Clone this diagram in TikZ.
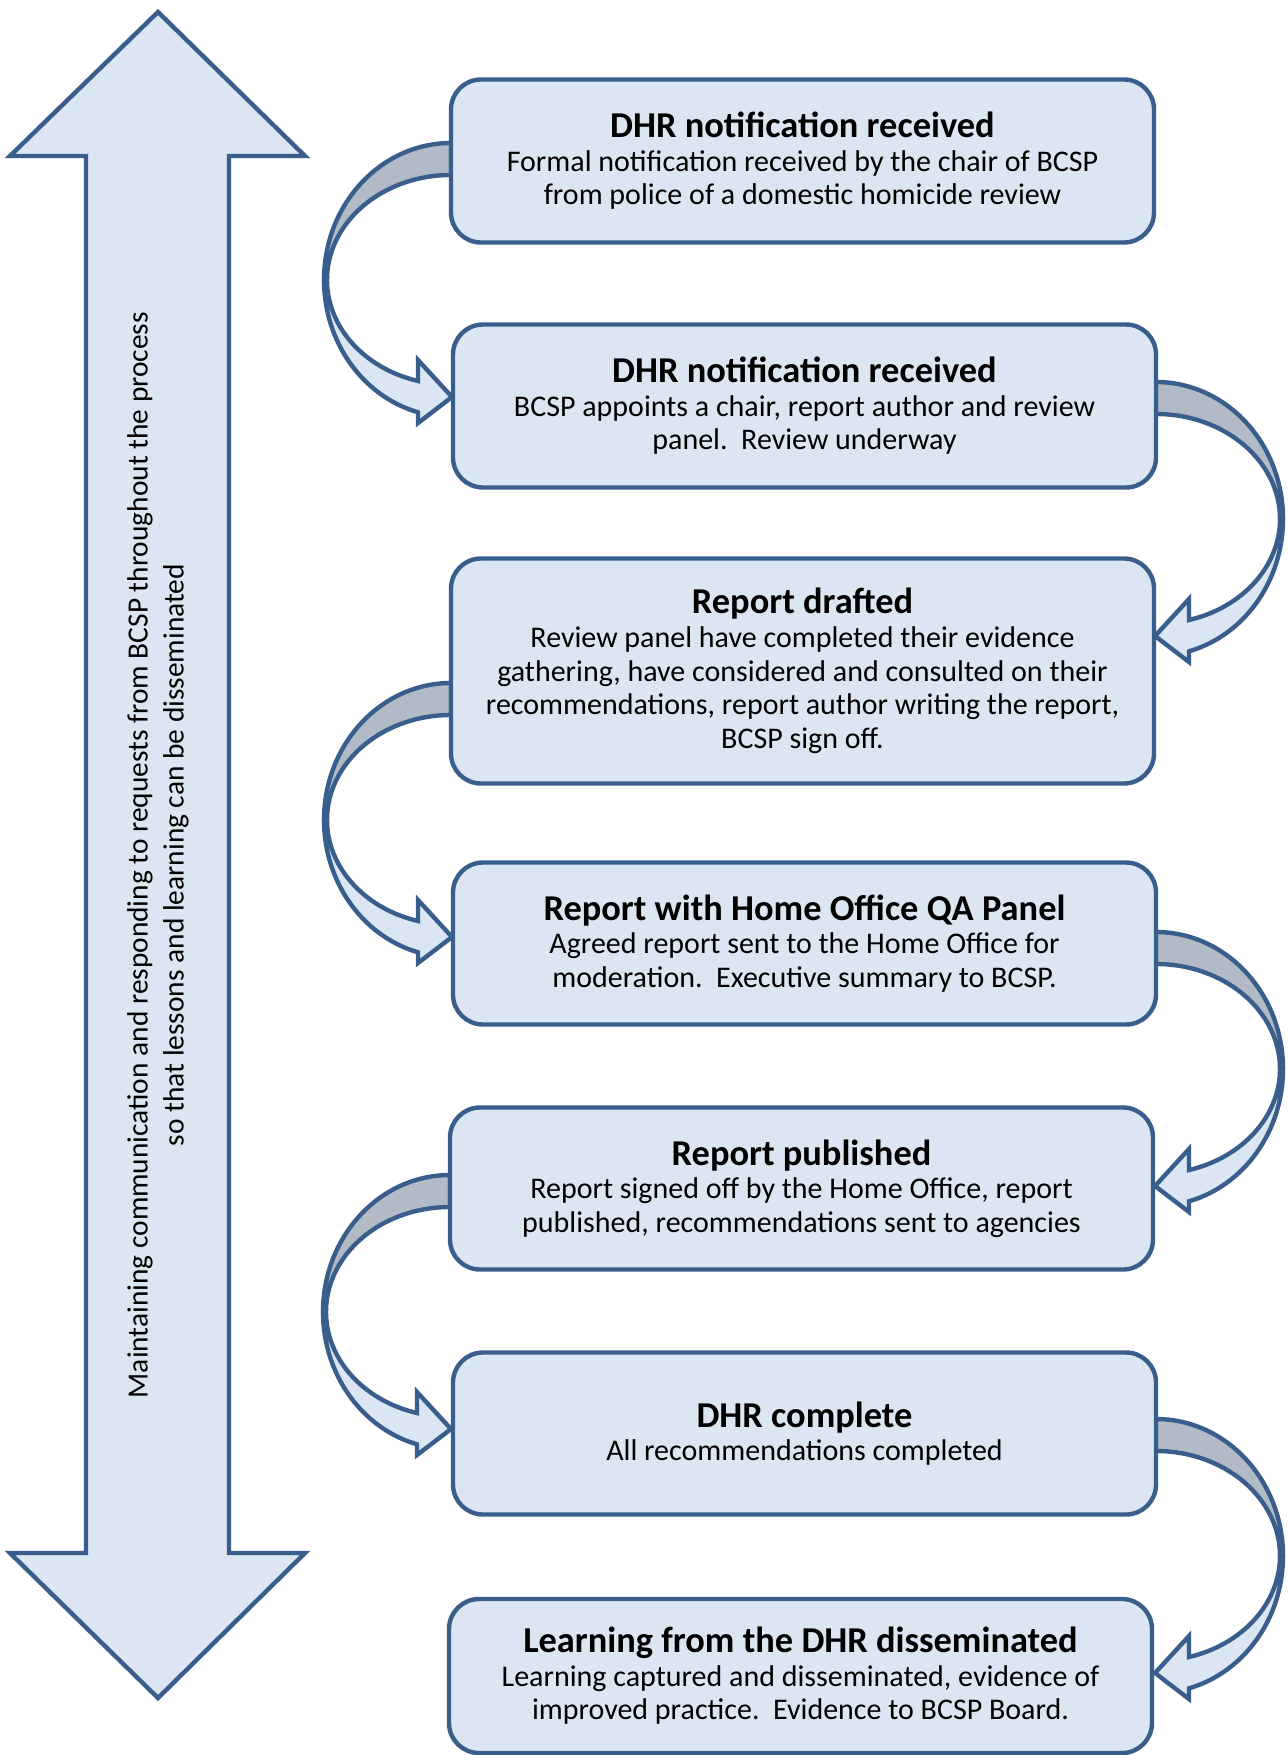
\documentclass[tikz,border=0pt]{standalone}
\usepackage{fontspec}
\setmainfont{Carlito}
\usetikzlibrary{calc,backgrounds}
\definecolor{boxfill}{HTML}{DCE6F2}
\definecolor{boxline}{HTML}{3A5E8C}
\definecolor{bandgray}{HTML}{B1BAC5}
\newcommand\ttl{\fontsize{18.2}{18}\selectfont\bfseries}
\newcommand\bdy{\fontsize{15}{16.8}\selectfont}
\tikzset{
  band/.style={draw=boxline, line width=2.2pt, line join=miter},
  stagebox/.style={draw=boxline, fill=boxfill, line width=2.2pt, rounded corners=15pt,
    minimum width=351.5pt, align=center, inner sep=0pt, outer sep=0pt, font=\bdy, text=black},
  leftcurve/.pic={
    \filldraw[band, fill=bandgray] (0,0) arc[start angle=90,end angle=180,x radius=63.5pt,y radius=68.5pt]
      -- (-124,137) arc[start angle=180,end angle=90,x radius=62pt,y radius=52.5pt] -- cycle;
    \filldraw[band, fill=boxfill] (-127,137) arc[start angle=180,end angle=254.94,x radius=63.5pt,y radius=68.5pt]
      -- (-33,280) -- (1,254) -- (-33,217) -- (-33,238)
      arc[start angle=254.57,end angle=180,x radius=62pt,y radius=52.5pt] -- cycle;
  },
  rightcurve/.pic={
    \filldraw[band, fill=bandgray] (0,0) arc[start angle=90,end angle=0,x radius=63.5pt,y radius=68.5pt]
      -- (124,137) arc[start angle=0,end angle=90,x radius=62pt,y radius=52.5pt] -- cycle;
    \filldraw[band, fill=boxfill] (127,137) arc[start angle=0,end angle=-74.94,x radius=63.5pt,y radius=68.5pt]
      -- (33,280) -- (-1,254) -- (33,217) -- (33,238)
      arc[start angle=-74.57,end angle=0,x radius=62pt,y radius=52.5pt] -- cycle;
  }
}
\begin{document}
\begin{tikzpicture}[x=0.5pt,y=-0.5pt]
\useasboundingbox (0,0) rectangle (1288,1755);

% side double arrow
\filldraw[band, fill=boxfill] (158,12) -- (305,156) -- (229,156) -- (229,1553) -- (305,1553)
  -- (158,1698) -- (10,1553) -- (86,1553) -- (86,156) -- (10,156) -- cycle;
\node[rotate=90, align=center, font=\fontsize{14.7}{18}\selectfont, inner sep=0pt] (side) at (158,855)
  {Maintaining communication and responding to requests from BCSP throughout the process\\
   so that lessons and learning can be disseminated};

% stage boxes
\node[stagebox, minimum height=81.5pt] (b1) at (802.5,161)
  {{\ttl DHR notification received}\\Formal notification received by the chair of BCSP\\from police of a domestic homicide review};
\node[stagebox, minimum height=81.5pt] (b2) at (804.5,406)
  {{\ttl DHR notification received}\\BCSP appoints a chair, report author and review\\panel.\ \ Review underway};
\node[stagebox, minimum height=112.5pt] (b3) at (802.5,671)
  {{\ttl Report drafted}\\Review panel have completed their evidence\\gathering, have considered and consulted on their\\recommendations, report author writing the report,\\BCSP sign off.};
\node[stagebox, minimum height=81pt] (b4) at (804.5,943.5)
  {{\ttl Report with Home Office QA Panel}\\Agreed report sent to the Home Office for\\moderation.\ \ Executive summary to BCSP.};
\node[stagebox, minimum height=81pt] (b5) at (801.5,1188.5)
  {{\ttl Report published}\\Report signed off by the Home Office, report\\published, recommendations sent to agencies};
\node[stagebox, minimum height=81pt] (b6) at (804.5,1433.5)
  {{\ttl DHR complete}\\All recommendations completed};
\node[stagebox, minimum height=77pt] (b7) at (800.5,1676)
  {{\ttl Learning from the DHR disseminated}\\Learning captured and disseminated, evidence of\\improved practice.\ \ Evidence to BCSP Board.};

% curved connectors
\begin{pgfonlayer}{background}
\pic at ($(b1.north west)+(0,63.5)$) {leftcurve};
\pic at ($(b2.north east)+(0,57.5)$) {rightcurve};
\pic at ($(b3.north west)+(0,124.5)$) {leftcurve};
\pic at ($(b4.north east)+(0,69.5)$) {rightcurve};
\pic at ($(b5.north west)+(0,67.5)$) {leftcurve};
\pic at ($(b6.north east)+(0,66.5)$) {rightcurve};
\end{pgfonlayer}
\end{tikzpicture}
\end{document}
